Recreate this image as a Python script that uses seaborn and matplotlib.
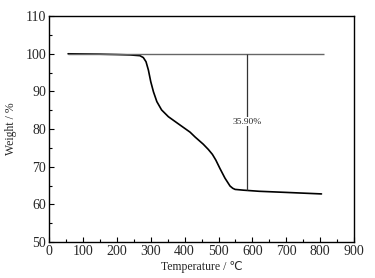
import matplotlib
matplotlib.use('Agg')
import matplotlib.pyplot as plt
import pandas as pd
import seaborn as sns
from matplotlib.ticker import MultipleLocator

# TGA curve
temperature = [56, 100, 150, 200, 239, 268, 278, 286, 293, 300, 308, 318,
               332, 352, 380, 416, 431, 455, 470, 482, 492, 504, 519, 534,
               542, 549, 573, 620, 700, 804]
weight = [100.0, 99.95, 99.9, 99.8, 99.7, 99.5, 99.0, 97.9, 95.7, 92.6, 89.9,
          87.3, 85.1, 83.3, 81.5, 79.2, 77.9, 76.0, 74.6, 73.3, 71.8, 69.6,
          67.0, 64.9, 64.3, 64.0, 63.8, 63.5, 63.2, 62.8]

# reference line and mass loss marker
baseline_x = [56, 811]
baseline_y = 100
loss_x = 585
loss_bottom = 63.8
loss_label = '35.90%'

df = pd.DataFrame({'Temperature': temperature, 'Weight': weight})

sns.set_style('ticks')
plt.rcParams['font.family'] = ['Liberation Serif', 'DejaVu Sans']

fig = plt.figure(figsize=(3.75, 2.78), dpi=100)
ax = fig.add_axes([0.131, 0.129, 0.813, 0.813])

sns.lineplot(data=df, x='Temperature', y='Weight', ax=ax, color='black',
             linewidth=1.2, estimator=None, sort=False)

ax.hlines(baseline_y, baseline_x[0], baseline_x[1], color='#666666',
          linewidth=1.0)
ax.vlines(loss_x, loss_bottom, baseline_y, color='#333333', linewidth=0.9)
ax.text(loss_x, 82, loss_label, ha='center', va='center', fontsize=6.8,
        bbox=dict(facecolor='white', edgecolor='none', pad=0.3))

ax.set_xlim(0, 900)
ax.set_ylim(50, 110)
ax.xaxis.set_major_locator(MultipleLocator(100))
ax.xaxis.set_minor_locator(MultipleLocator(50))
ax.yaxis.set_major_locator(MultipleLocator(10))
ax.yaxis.set_minor_locator(MultipleLocator(5))
ax.tick_params(which='both', direction='in', labelsize=10, pad=2,
               width=0.8, color='black')
ax.tick_params(which='major', length=3.5)
ax.tick_params(which='minor', length=2)

for s in ax.spines.values():
    s.set_visible(True)
    s.set_linewidth(1.0)
    s.set_color('black')

ax.set_xlabel('Temperature / \u2103', fontsize=8.5, labelpad=2)
ax.set_ylabel('Weight / %', fontsize=8.5, labelpad=6)

plt.savefig('out.png', dpi=100, facecolor='white')
